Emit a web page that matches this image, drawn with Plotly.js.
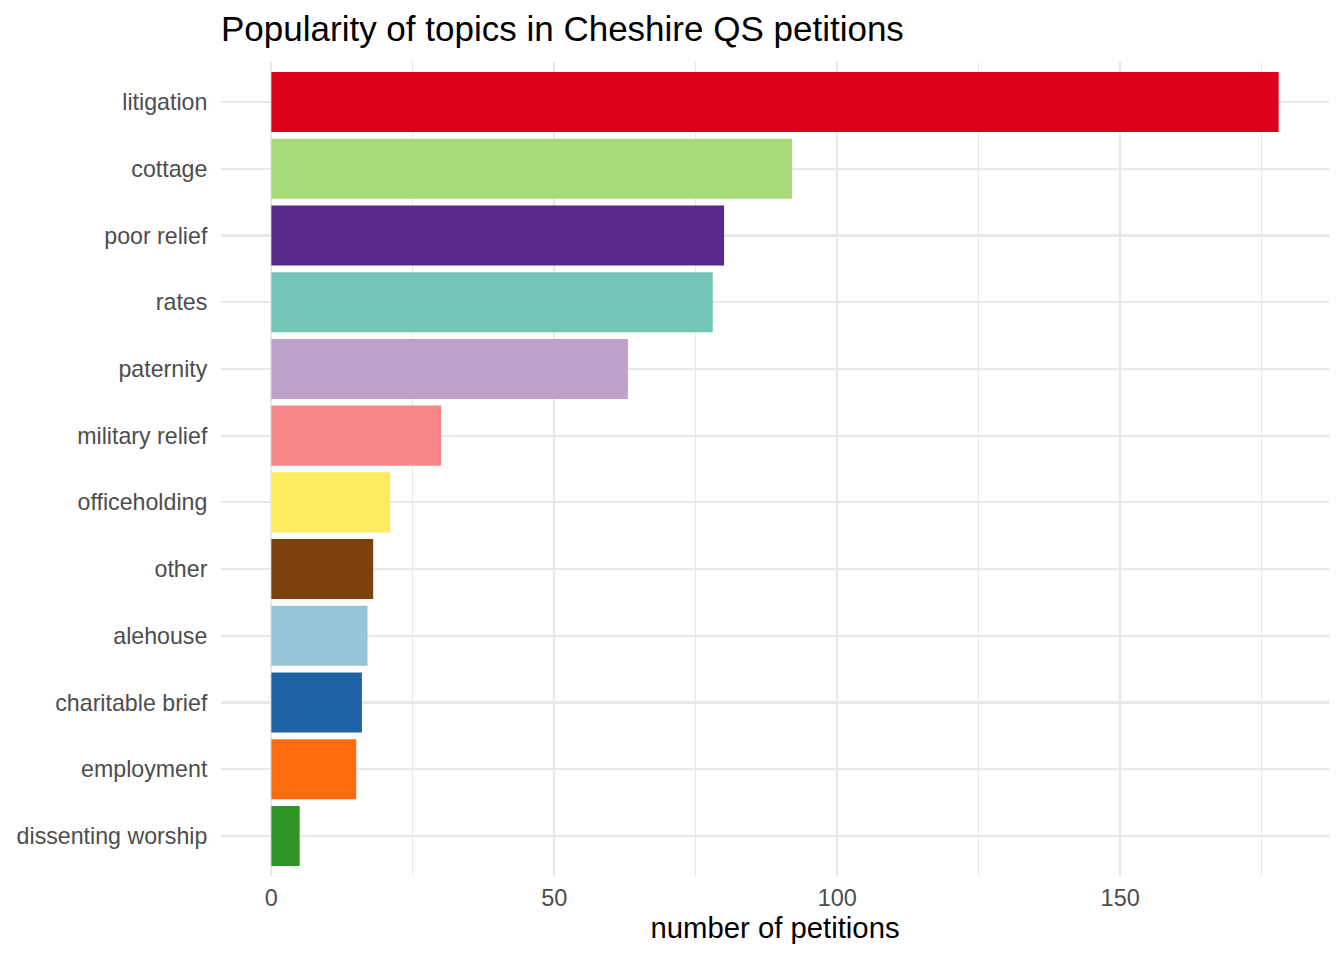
<!DOCTYPE html>
<html>
<head>
<meta charset="utf-8">
<script src="https://cdn.plot.ly/plotly-3.0.1.min.js"></script>
<style>
  html, body { margin: 0; padding: 0; background: #fff; }
  #chart { width: 1344px; height: 960px; }
</style>
</head>
<body>
<div id="chart"></div>
<script>
const topics = ['litigation', 'cottage', 'poor relief', 'rates', 'paternity', 'military relief',
    'officeholding', 'other', 'alehouse', 'charitable brief', 'employment', 'dissenting worship'];
const petitions = [178, 92, 80, 78, 63, 30, 21, 18, 17, 16, 15, 5];
const barColors = ['#DC001B', '#A6DB78', '#57298A', '#72C5B4', '#BEA0CB', '#F88789',
    '#FFEB5F', '#7B400C', '#98C4DB', '#1D63A5', '#FF6C0D', '#2F9426'];
const xTicks = [0, 50, 100, 150];

const font = 'Liberation Sans, Arial, sans-serif';
const grid = '#e8e8e8';

const graphData = [{
    type: 'bar',
    orientation: 'h',
    x: petitions,
    y: topics,
    marker: { color: barColors, line: { width: 0 } },
    hoverinfo: 'x+y',
}];

const layout = {
    width: 1344,
    height: 960,
    margin: { l: 221, r: 15, t: 62, b: 84 },
    paper_bgcolor: '#fff',
    plot_bgcolor: '#fff',
    showlegend: false,
    bargap: 0.1,
    font: { family: font, color: '#4d4d4d' },
    title: {
        text: 'Popularity of topics in Cheshire QS petitions',
        font: { family: font, size: 35, color: '#000' },
        x: 221 / 1344,
        xref: 'container',
        xanchor: 'left',
        y: 1 - 29 / 960,
        yref: 'container',
        yanchor: 'middle',
    },
    xaxis: {
        range: [-8.9, 186.9],
        tickvals: xTicks,
        ticktext: xTicks.map(String),
        tickfont: { family: font, size: 23.5, color: '#4d4d4d' },
        ticks: 'outside',
        ticklen: 1,
        tickcolor: 'rgba(0,0,0,0)',
        showgrid: true,
        gridcolor: grid,
        gridwidth: 2.2,
        zeroline: false,
        showline: false,
        minor: { tickvals: [25, 75, 125, 175], showgrid: true, gridcolor: grid, gridwidth: 1.3, ticks: '' },
        title: {
            text: 'number of petitions',
            font: { family: font, size: 29.3, color: '#000' },
            standoff: 7,
        },
        fixedrange: true,
    },
    yaxis: {
        type: 'category',
        categoryorder: 'array',
        categoryarray: topics,
        range: [11.6, -0.6],
        tickfont: { family: font, size: 23.2, color: '#4d4d4d' },
        ticks: 'outside',
        ticklen: 8,
        tickcolor: 'rgba(0,0,0,0)',
        showgrid: true,
        gridcolor: grid,
        gridwidth: 2.2,
        zeroline: false,
        showline: false,
        fixedrange: true,
    },
};

Plotly.newPlot('chart', graphData, layout, { displayModeBar: false, staticPlot: true });
</script>
</body>
</html>
